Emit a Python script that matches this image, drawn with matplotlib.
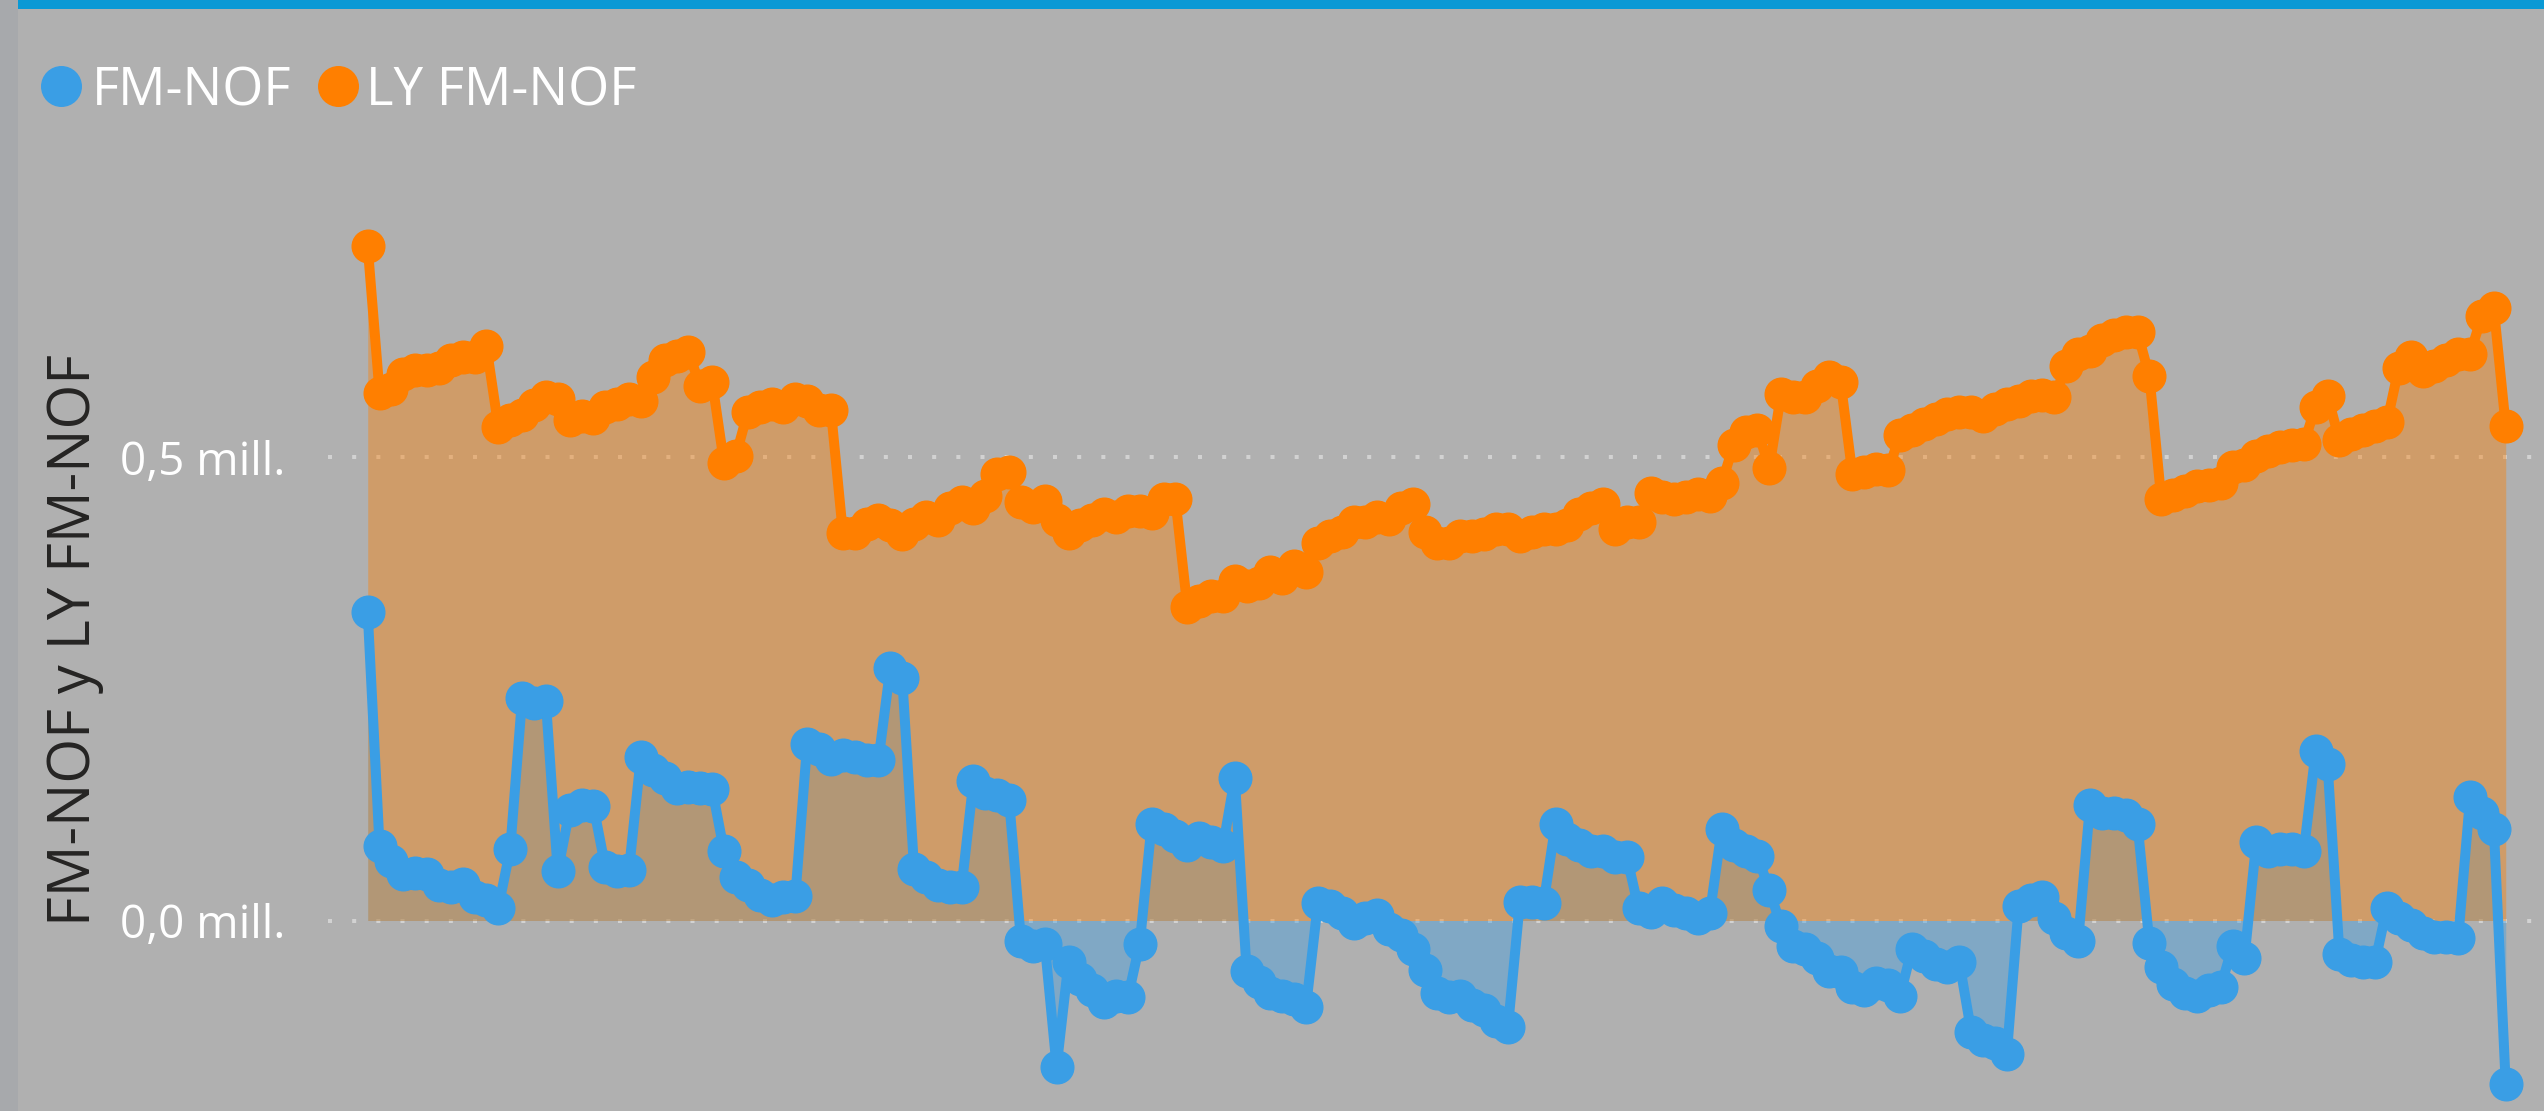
import numpy as np
import matplotlib
matplotlib.use("Agg")
import matplotlib.pyplot as plt
from matplotlib.lines import Line2D
from matplotlib.patches import Rectangle

plt.rcParams['font.family'] = ['Open Sans', 'DejaVu Sans']

# ---------------- data (values in millions) ----------------
days = np.arange(181)

fm_nof = [
    0.333, 0.080, 0.064, 0.050, 0.051, 0.050, 0.038, 0.036, 0.039, 0.025,
    0.022, 0.014, 0.077, 0.240, 0.235, 0.237, 0.053, 0.119, 0.125, 0.124,
    0.058, 0.053, 0.055, 0.177, 0.163, 0.154, 0.143, 0.144, 0.143, 0.142,
    0.075, 0.047, 0.038, 0.028, 0.022, 0.025, 0.026, 0.191, 0.185, 0.174,
    0.179, 0.177, 0.173, 0.173, 0.273, 0.262, 0.056, 0.047, 0.038, 0.036,
    0.036, 0.151, 0.138, 0.135, 0.130, -0.022, -0.028, -0.025, -0.158, -0.045,
    -0.063, -0.075, -0.088, -0.082, -0.083, -0.025, 0.104, 0.099, 0.091, 0.082,
    0.089, 0.085, 0.080, 0.154, -0.055, -0.066, -0.078, -0.082, -0.085, -0.093,
    0.019, 0.016, 0.008, -0.003, 0.003, 0.006, -0.009, -0.016, -0.031, -0.053,
    -0.078, -0.083, -0.082, -0.091, -0.097, -0.108, -0.115, 0.020, 0.020, 0.019,
    0.104, 0.088, 0.082, 0.075, 0.075, 0.069, 0.069, 0.013, 0.009, 0.019,
    0.011, 0.008, 0.003, 0.008, 0.099, 0.082, 0.075, 0.070, 0.033, -0.006,
    -0.028, -0.031, -0.041, -0.055, -0.056, -0.072, -0.075, -0.068, -0.070, -0.082,
    -0.031, -0.038, -0.047, -0.050, -0.045, -0.120, -0.129, -0.132, -0.144, 0.016,
    0.022, 0.025, 0.003, -0.013, -0.022, 0.125, 0.116, 0.116, 0.114, 0.104,
    -0.024, -0.050, -0.069, -0.078, -0.082, -0.075, -0.072, -0.028, -0.041, 0.085,
    0.075, 0.077, 0.077, 0.075, 0.183, 0.169, -0.036, -0.043, -0.045, -0.045,
    0.014, 0.003, -0.005, -0.014, -0.018, -0.018, -0.019, 0.133, 0.116, 0.099,
    -0.177,
]

ly_fm_nof = [
    0.728, 0.570, 0.574, 0.590, 0.595, 0.595, 0.597, 0.605, 0.609, 0.609,
    0.620, 0.533, 0.541, 0.546, 0.557, 0.565, 0.563, 0.540, 0.545, 0.543,
    0.555, 0.558, 0.563, 0.561, 0.587, 0.605, 0.610, 0.614, 0.577, 0.582,
    0.494, 0.502, 0.549, 0.555, 0.558, 0.555, 0.563, 0.561, 0.551, 0.551,
    0.419, 0.419, 0.428, 0.433, 0.427, 0.417, 0.428, 0.436, 0.433, 0.445,
    0.452, 0.445, 0.458, 0.482, 0.484, 0.452, 0.447, 0.453, 0.433, 0.419,
    0.427, 0.433, 0.439, 0.436, 0.442, 0.442, 0.440, 0.455, 0.455, 0.339,
    0.345, 0.350, 0.350, 0.367, 0.361, 0.364, 0.376, 0.370, 0.383, 0.376,
    0.408, 0.415, 0.420, 0.430, 0.430, 0.436, 0.434, 0.445, 0.450, 0.420,
    0.408, 0.408, 0.415, 0.415, 0.417, 0.423, 0.423, 0.415, 0.420, 0.423,
    0.423, 0.427, 0.439, 0.445, 0.450, 0.423, 0.430, 0.430, 0.462, 0.457,
    0.455, 0.457, 0.461, 0.458, 0.472, 0.514, 0.527, 0.530, 0.489, 0.569,
    0.565, 0.565, 0.577, 0.587, 0.582, 0.482, 0.484, 0.488, 0.486, 0.524,
    0.530, 0.536, 0.542, 0.547, 0.549, 0.549, 0.545, 0.552, 0.558, 0.561,
    0.566, 0.568, 0.565, 0.599, 0.612, 0.615, 0.627, 0.632, 0.636, 0.635,
    0.588, 0.455, 0.459, 0.464, 0.469, 0.470, 0.473, 0.490, 0.492, 0.502,
    0.507, 0.511, 0.514, 0.515, 0.555, 0.566, 0.519, 0.525, 0.530, 0.534,
    0.538, 0.597, 0.609, 0.593, 0.599, 0.605, 0.612, 0.612, 0.653, 0.661,
    0.534,
]

series_names = ["FM-NOF", "LY FM-NOF"]
y_ticks = [0.0, 0.5]
y_tick_labels = ["0,0 mill.", "0,5 mill."]
y_title = "FM-NOF y LY FM-NOF"

# ---------------- style ----------------
BG = '#B0B0B0'
BLUE = '#3A9EE5'
ORANGE = '#FF7F00'
W, H = 2544, 1111

fig = plt.figure(figsize=(W / 100, H / 100), dpi=100, facecolor=BG)

# left strip and top accent bar
fig.add_artist(Rectangle((0, 0), 18 / W, 1, transform=fig.transFigure,
                         facecolor='#A7A9AC', edgecolor='none', zorder=0))
fig.add_artist(Rectangle((18 / W, 1 - 9 / H), 1, 9 / H, transform=fig.transFigure,
                         facecolor='#0A99D5', edgecolor='none', zorder=0))

left_px, right_px, top_px = 328, 2540, 140
ax = fig.add_axes([left_px / W, 0, (right_px - left_px) / W, (H - top_px) / H])
ax.set_facecolor('none')

x0_px, dx_px = 367.7, 11.878
zero_px, px_per_unit = 920.5, 926.0
ax.set_xlim((left_px - x0_px) / dx_px, (right_px - x0_px) / dx_px)
ax.set_ylim((zero_px - H) / px_per_unit, (zero_px - top_px) / px_per_unit)

for s in ax.spines.values():
    s.set_visible(False)
ax.set_xticks([])
ax.set_yticks(y_ticks)
ax.set_yticklabels(y_tick_labels)
ax.tick_params(axis='y', length=0, pad=31, labelsize=33, labelcolor='white')
ax.set_axisbelow(True)
ax.yaxis.grid(True, color='#D2D2D2', linewidth=2.9, linestyle=(0, (1, 5)))

ax.fill_between(days, 0, fm_nof, color=BLUE, alpha=0.4, lw=0, zorder=1)
ax.fill_between(days, 0, ly_fm_nof, color=ORANGE, alpha=0.4, lw=0, zorder=2)
ax.plot(days, fm_nof, '-o', color=BLUE, lw=7.2, ms=23.5, zorder=3)
ax.plot(days, ly_fm_nof, '-o', color=ORANGE, lw=7.2, ms=23.5, zorder=4)

# legend
for cx, tx, col, name in [(61, 92, BLUE, series_names[0]), (338, 366, ORANGE, series_names[1])]:
    fig.add_artist(Line2D([cx / W], [1 - 86 / H], marker='o', ms=28.5, color=col,
                          linestyle='none', transform=fig.transFigure))
    fig.text(tx / W, 1 - 105 / H, name, fontsize=38, color='white',
             ha='left', va='baseline')

# y axis title
fig.text(75 / W, 1 - 640 / H, y_title, rotation=90, fontsize=41.5,
         color='#252423', ha='center', va='center')

fig.savefig('out.png', dpi=100, facecolor=BG)
